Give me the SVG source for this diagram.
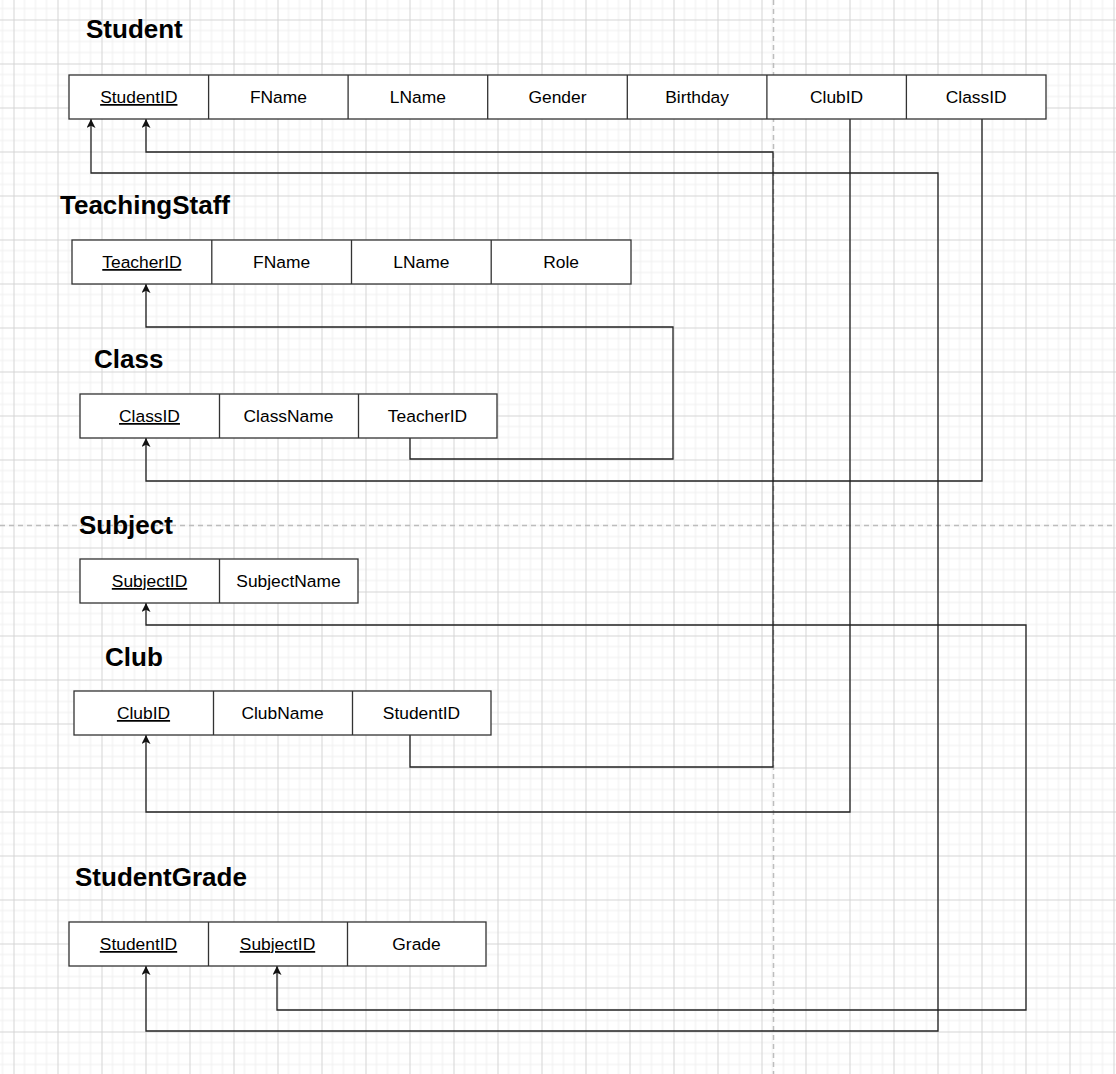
<svg xmlns="http://www.w3.org/2000/svg" width="1116" height="1074" viewBox="0 0 1116 1074">
<defs>
<pattern id="grid" x="13.5" y="19.5" width="44" height="44" patternUnits="userSpaceOnUse">
<path d="M11,0V44M22,0V44M33,0V44M0,11H44M0,22H44M0,33H44" stroke="#efefef" stroke-width="1" fill="none"/>
<path d="M0.5,0V44M0,0.5H44" stroke="#d4d4d4" stroke-width="1" fill="none"/>
</pattern>
<marker id="arr" viewBox="0 0 10 10" refX="10" refY="5" markerWidth="9" markerHeight="9" markerUnits="userSpaceOnUse" orient="auto-start-reverse">
<path d="M0,0 L10,5 L0,10 L2.5,5 Z" fill="#111"/>
</marker>
</defs>
<style>
.title{font-family:"Liberation Sans",Arial,sans-serif;font-size:26px;font-weight:bold;fill:#000}
.cell{fill:#fff;stroke:#333;stroke-width:1.3}
.div{stroke:#333;stroke-width:1.3}
.t{font-family:"Liberation Sans",Arial,sans-serif;font-size:17.4px;fill:#000;text-anchor:middle}
.pk{text-decoration:underline}
.conn{fill:none;stroke:#222;stroke-width:1.3}
.page{stroke:#bdbdbd;stroke-width:1.5;stroke-dasharray:5,4;fill:none}
</style>
<rect width="1116" height="1074" fill="#fff"/>
<rect width="1116" height="1074" fill="url(#grid)"/>
<path class="page" d="M773.5,0V1074M0,525.5H1116"/>

<g id="connectors">
<path class="conn" d="M410,735V767H773V152H146V119" marker-end="url(#arr)"/>
<path class="conn" d="M146,966V1031H938V173H91V119" marker-start="url(#arr)" marker-end="url(#arr)"/>
<path class="conn" d="M850,119V812H146V735" marker-end="url(#arr)"/>
<path class="conn" d="M982,119V481H146V438" marker-end="url(#arr)"/>
<path class="conn" d="M410,438V459H673V327H146V284" marker-end="url(#arr)"/>
<path class="conn" d="M277,966V1010H1026V625H146V603" marker-start="url(#arr)" marker-end="url(#arr)"/>
</g>

<g id="student">
<text class="title" x="86" y="38">Student</text>
<rect class="cell" x="69" y="75" width="977" height="44"/>
<path class="div" d="M208.6,75V119M348.1,75V119M487.7,75V119M627.3,75V119M766.9,75V119M906.4,75V119"/>
<text class="t pk" x="138.8" y="103">StudentID</text>
<text class="t" x="278.4" y="103">FName</text>
<text class="t" x="417.9" y="103">LName</text>
<text class="t" x="557.5" y="103">Gender</text>
<text class="t" x="697.1" y="103">Birthday</text>
<text class="t" x="836.6" y="103">ClubID</text>
<text class="t" x="976.2" y="103">ClassID</text>
</g>

<g id="teachingstaff">
<text class="title" x="60" y="214">TeachingStaff</text>
<rect class="cell" x="72" y="240" width="559" height="44"/>
<path class="div" d="M211.8,240V284M351.5,240V284M491.2,240V284"/>
<text class="t pk" x="141.9" y="268">TeacherID</text>
<text class="t" x="281.6" y="268">FName</text>
<text class="t" x="421.4" y="268">LName</text>
<text class="t" x="561.1" y="268">Role</text>
</g>

<g id="class">
<text class="title" x="94" y="368">Class</text>
<rect class="cell" x="80" y="394" width="417" height="44"/>
<path class="div" d="M219.5,394V438M358.5,394V438"/>
<text class="t pk" x="149.5" y="422">ClassID</text>
<text class="t" x="288.5" y="422">ClassName</text>
<text class="t" x="427.5" y="422">TeacherID</text>
</g>

<g id="subject">
<text class="title" x="79" y="534">Subject</text>
<rect class="cell" x="80" y="559" width="278" height="44"/>
<path class="div" d="M219.5,559V603"/>
<text class="t pk" x="149.5" y="587">SubjectID</text>
<text class="t" x="288.5" y="587">SubjectName</text>
</g>

<g id="club">
<text class="title" x="105" y="666">Club</text>
<rect class="cell" x="74" y="691" width="417" height="44"/>
<path class="div" d="M213.5,691V735M352.5,691V735"/>
<text class="t pk" x="143.5" y="719">ClubID</text>
<text class="t" x="282.5" y="719">ClubName</text>
<text class="t" x="421.5" y="719">StudentID</text>
</g>

<g id="studentgrade">
<text class="title" x="75" y="886">StudentGrade</text>
<rect class="cell" x="69" y="922" width="417" height="44"/>
<path class="div" d="M208.5,922V966M347.5,922V966"/>
<text class="t pk" x="138.5" y="950">StudentID</text>
<text class="t pk" x="277.5" y="950">SubjectID</text>
<text class="t" x="416.5" y="950">Grade</text>
</g>
</svg>
